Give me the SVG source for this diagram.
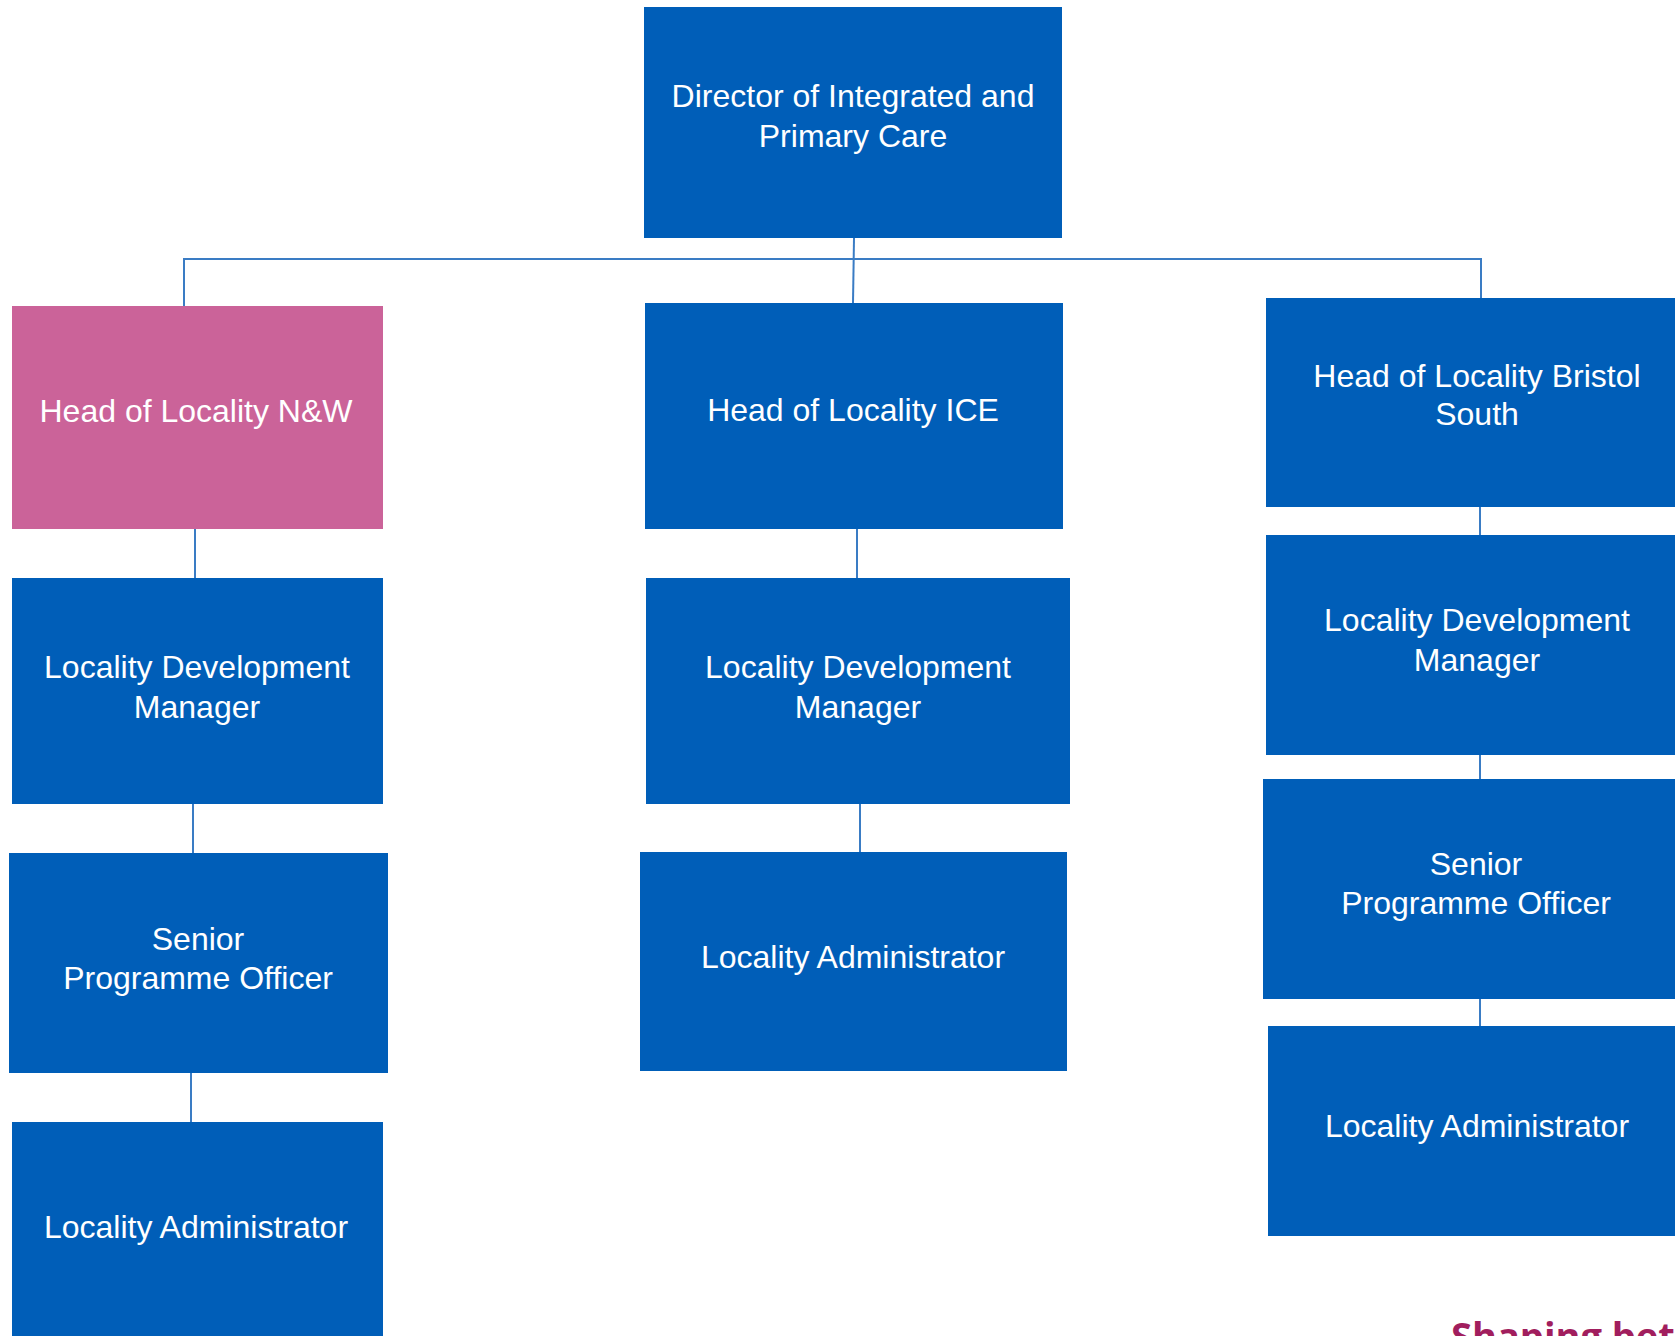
<svg xmlns="http://www.w3.org/2000/svg" width="1675" height="1336" viewBox="0 0 1675 1336">
<style>
.box{fill:#005EB8}
.pink{fill:#CB6399}
.t{font-family:"Liberation Sans",Arial,sans-serif;font-size:32px;fill:#FFFFFF;text-anchor:middle}
.c{stroke:#3A7CC4;stroke-width:2;fill:none}
.logo{font-family:"Open Sans","Liberation Sans",sans-serif;font-weight:bold;font-size:38px;fill:#A11E5E}
</style>
<rect width="1675" height="1336" fill="#FFFFFF"/>
<g id="connectors">
<path class="c" d="M854 238 L853 303"/>
<path class="c" d="M184 306 L184 259 L1481 259 L1481 298"/>
<path class="c" d="M195 529 L195 578"/>
<path class="c" d="M193 804 L193 853"/>
<path class="c" d="M191 1073 L191 1122"/>
<path class="c" d="M857 529 L857 578"/>
<path class="c" d="M860 804 L860 852"/>
<path class="c" d="M1480 507 L1480 535"/>
<path class="c" d="M1480 755 L1480 779"/>
<path class="c" d="M1480 999 L1480 1026"/>
</g>
<g id="director">
<rect class="box" x="644" y="7" width="418" height="231"/>
<text class="t" x="853" y="107">Director of Integrated and</text>
<text class="t" x="853" y="147">Primary Care</text>
</g>
<g id="head-nw">
<rect class="pink" x="12" y="306" width="371" height="223"/>
<text class="t" x="196" y="422">Head of Locality N&amp;W</text>
</g>
<g id="head-ice">
<rect class="box" x="645" y="303" width="418" height="226"/>
<text class="t" x="853" y="421">Head of Locality ICE</text>
</g>
<g id="head-bs">
<rect class="box" x="1266" y="298" width="409" height="209"/>
<text class="t" x="1477" y="387">Head of Locality Bristol</text>
<text class="t" x="1477" y="425">South</text>
</g>
<g id="ldm-nw">
<rect class="box" x="12" y="578" width="371" height="226"/>
<text class="t" x="197" y="678">Locality Development</text>
<text class="t" x="197" y="718">Manager</text>
</g>
<g id="ldm-ice">
<rect class="box" x="646" y="578" width="424" height="226"/>
<text class="t" x="858" y="678">Locality Development</text>
<text class="t" x="858" y="718">Manager</text>
</g>
<g id="ldm-bs">
<rect class="box" x="1266" y="535" width="409" height="220"/>
<text class="t" x="1477" y="631">Locality Development</text>
<text class="t" x="1477" y="671">Manager</text>
</g>
<g id="spo-nw">
<rect class="box" x="9" y="853" width="379" height="220"/>
<text class="t" x="198" y="950">Senior</text>
<text class="t" x="198" y="989">Programme Officer</text>
</g>
<g id="spo-bs">
<rect class="box" x="1263" y="779" width="412" height="220"/>
<text class="t" x="1476" y="875">Senior</text>
<text class="t" x="1476" y="914">Programme Officer</text>
</g>
<g id="la-nw">
<rect class="box" x="12" y="1122" width="371" height="214"/>
<text class="t" x="196" y="1238">Locality Administrator</text>
</g>
<g id="la-ice">
<rect class="box" x="640" y="852" width="427" height="219"/>
<text class="t" x="853" y="968">Locality Administrator</text>
</g>
<g id="la-bs">
<rect class="box" x="1268" y="1026" width="407" height="210"/>
<text class="t" x="1477" y="1137">Locality Administrator</text>
</g>
<text class="logo" x="1451" y="1350">Shaping bett</text>
</svg>
